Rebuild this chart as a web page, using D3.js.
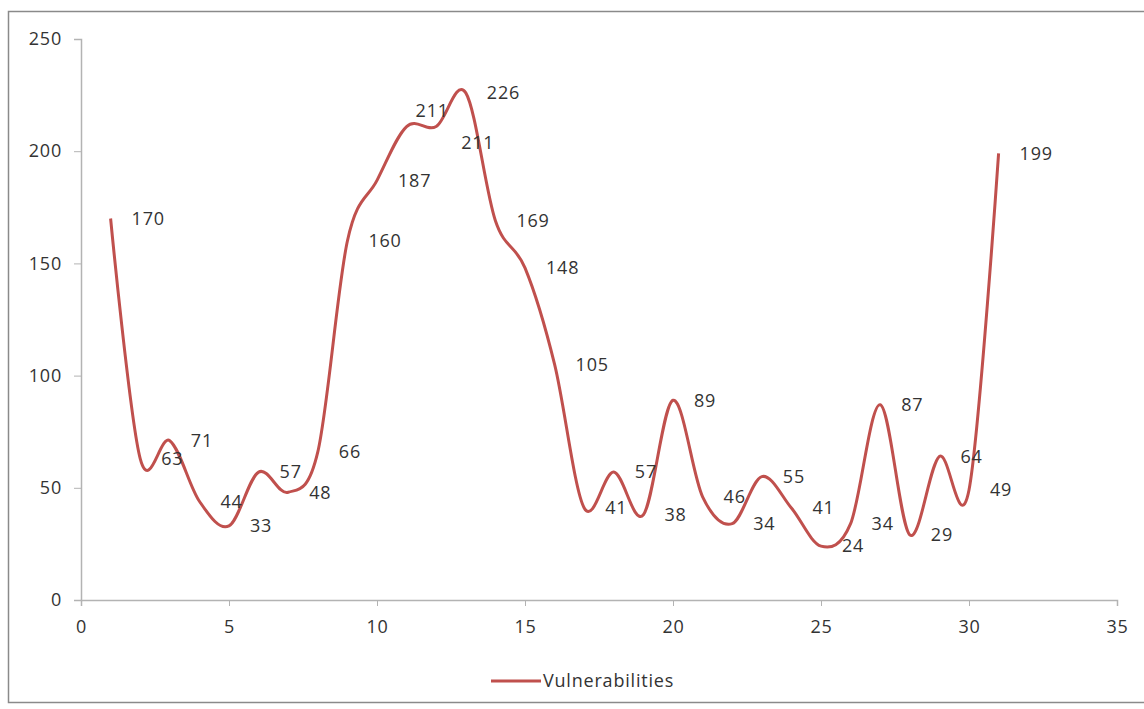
<!DOCTYPE html>
<html>
<head>
<meta charset="utf-8">
<script src="https://cdn.jsdelivr.net/npm/d3@7"></script>
<style>
  body { margin: 0; background: #fff; }
  text { font-family: "Open Sans", sans-serif; fill: #333; }
</style>
</head>
<body>
<div id="chart"></div>
<script>
// chart data
const days = [1, 2, 3, 4, 5, 6, 7, 8, 9, 10, 11, 12, 13, 14, 15, 16,
              17, 18, 19, 20, 21, 22, 23, 24, 25, 26, 27, 28, 29, 30, 31]
const vulnerabilities = [170, 63, 71, 44, 33, 57, 48, 66, 160, 187, 211, 211, 226, 169, 148, 105,
                         41, 57, 38, 89, 46, 34, 55, 41, 24, 34, 87, 29, 64, 49, 199]
const xTicks = [0, 5, 10, 15, 20, 25, 30, 35]
const yTicks = [0, 50, 100, 150, 200, 250]
const seriesName = 'Vulnerabilities'

// labels that sit off their usual spot (two 211s next to each other)
const labelNudge = { 11: [-12, -16], 12: [4, 16] }

const [width, height] = [1144, 709]
const lineColor = '#c0504d'
const axisColor = '#b3b3b3'
const fontSize = '18px'

const svg = d3.select('#chart').append('svg')
    .attr('width', width)
    .attr('height', height)

// outer frame
svg.append('rect')
    .attr('x', 8.5)
    .attr('y', 11.5)
    .attr('width', width)
    .attr('height', 691)
    .attr('fill', 'none')
    .attr('stroke', '#8a8a8a')
    .attr('stroke-width', 1.5)

const x = d3.scaleLinear().domain([0, 35]).range([81, 1117])
const y = d3.scaleLinear().domain([0, 250]).range([600, 39])

// y axis
const yAxis = svg.append('g')
    .attr('transform', `translate(${x(0)},0)`)
    .call(d3.axisLeft(y).tickValues(yTicks).tickSize(7).tickPadding(12))
yAxis.select('.domain').attr('stroke', axisColor).attr('stroke-width', 1.5)
yAxis.selectAll('.tick line').attr('stroke', axisColor)
yAxis.selectAll('.tick text')
    .style('font-size', fontSize)
    .style('letter-spacing', '0.8px')
    .attr('fill', '#333')

// x axis
const xAxis = svg.append('g')
    .attr('transform', `translate(0,${y(0)})`)
    .call(d3.axisBottom(x).tickValues(xTicks).tickSize(6).tickPadding(14))
xAxis.select('.domain').attr('stroke', axisColor).attr('stroke-width', 1.5)
xAxis.selectAll('.tick line').attr('stroke', axisColor)
xAxis.selectAll('.tick text')
    .style('font-size', fontSize)
    .style('letter-spacing', '0.8px')
    .attr('fill', '#333')

const points = days.map((d, i) => ({ day: d, value: vulnerabilities[i] }))

// smoothed line like the spreadsheet one
const line = d3.line()
    .x(d => x(d.day))
    .y(d => y(d.value))
    .curve(d3.curveCardinal.tension(0))

svg.append('path')
    .datum(points)
    .attr('d', line)
    .attr('fill', 'none')
    .attr('stroke', lineColor)
    .attr('stroke-width', 3)
    .attr('stroke-linejoin', 'round')

// data labels to the right of each point
svg.selectAll('.label')
    .data(points)
    .join('text')
    .attr('class', 'label')
    .attr('x', d => x(d.day) + 21 + (labelNudge[d.day] ? labelNudge[d.day][0] : 0))
    .attr('y', d => y(d.value) + (labelNudge[d.day] ? labelNudge[d.day][1] : 0))
    .attr('dy', '0.35em')
    .style('font-size', fontSize)
    .style('letter-spacing', '0.8px')
    .text(d => d.value)

// legend
const legend = svg.append('g').attr('transform', 'translate(491,681)')
legend.append('line')
    .attr('x1', 0)
    .attr('x2', 50)
    .attr('stroke', lineColor)
    .attr('stroke-width', 3)
legend.append('text')
    .attr('x', 52)
    .attr('dy', '0.35em')
    .style('font-size', fontSize)
    .style('letter-spacing', '0.8px')
    .text(seriesName)
</script>
</body>
</html>
